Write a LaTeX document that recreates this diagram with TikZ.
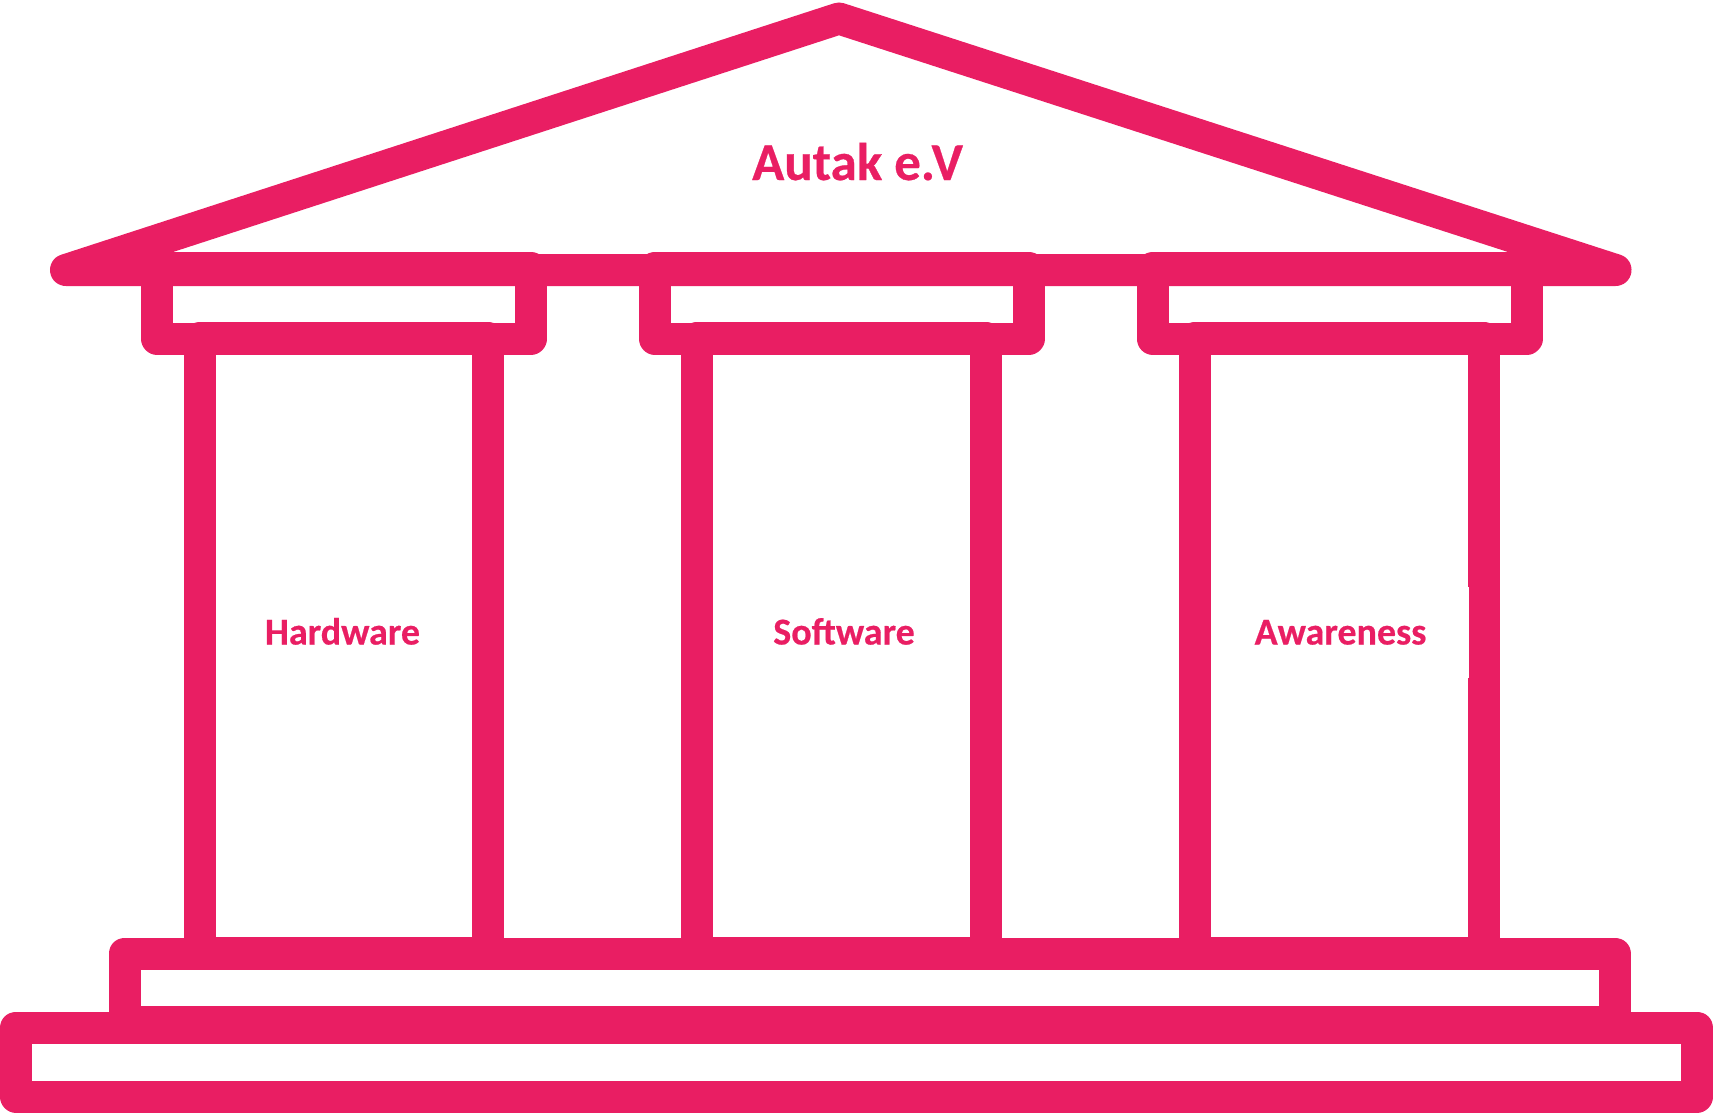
\documentclass[tikz,border=0pt]{standalone}
\usepackage{fontspec}
\usepackage{tikz}
\setmainfont[BoldFeatures={FakeBold=0.5}]{Carlito}
\usetikzlibrary{positioning}
\definecolor{mpink}{RGB}{233, 30, 99}
\tikzset{wall/.style = {draw = mpink, line width = 32, line join = round}}
\tikzset{pillarlabel/.style = {mpink, font = \fontsize{38}{38}\selectfont\bfseries, anchor = base}}
\begin{document}
\begin{tikzpicture}[x=1pt, y=-1pt]
    \useasboundingbox (0, 0) rectangle (1713, 1113);

    % roof
    \draw [wall] (66, 270) -- (839, 18.5) -- (1615.5, 270) -- cycle;
    \node [pillarlabel, font = \fontsize{53}{53}\selectfont\bfseries] (title) at (857.5, 180) {Autak e.V};

    % steps
    \draw [wall] (16, 1027.5) rectangle (1697, 1096.5);
    \draw [wall] (124.5, 953.5) rectangle (1615, 1022);

    % pillars
    \draw [wall] (157, 268) rectangle (531, 338.5);
    \draw [wall] (199.7, 337.5) rectangle (488, 952.5);
    \node [pillarlabel] (hardware) at (342.5, 644.5) {Hardware};

    \begin{scope}[shift={(497.7, 0)}]
      \draw [wall] (157, 268) rectangle (531, 338.5);
      \draw [wall] (199.7, 337.5) rectangle (488, 952.5);
    \end{scope}
    \node [pillarlabel] (software) at (844, 644.5) {Software};

    \begin{scope}[shift={(995.5, 0)}]
      \draw [wall] (157, 268) rectangle (531, 338.5);
      \draw [wall] (199.7, 337.5) rectangle (488, 952.5);
    \end{scope}
    \fill [white] (1460, 587) rectangle (1469, 678);
    \node [pillarlabel] (awareness) at (1340.5, 644.5) {Awareness};
\end{tikzpicture}
\end{document}
